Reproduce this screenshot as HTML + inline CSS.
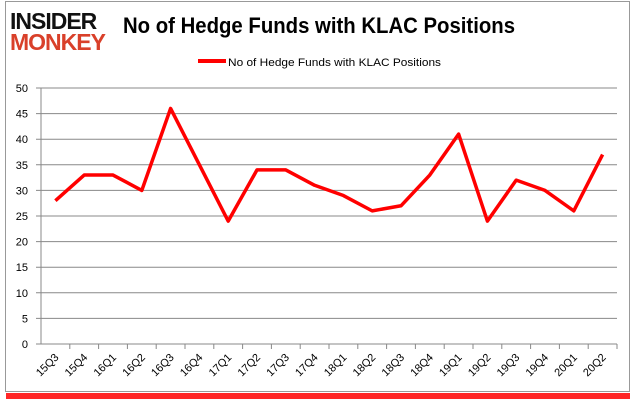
<!DOCTYPE html>
<html><head><meta charset="utf-8"><style>
body{margin:0;background:#fff;font-family:"Liberation Sans",sans-serif}
</style></head><body>
<svg width="635" height="405" xmlns="http://www.w3.org/2000/svg">
<rect x="6" y="393" width="624" height="6" fill="#f00" opacity="0.85"/>
<rect x="5.5" y="1.5" width="624" height="390" fill="#fff" stroke="#999"/>
<text x="10" y="29" font-size="23" font-weight="bold" fill="#111" font-family="Liberation Sans" letter-spacing="-1">INSIDER</text>
<text x="10" y="50" font-size="23" font-weight="bold" fill="#d9402a" font-family="Liberation Sans" letter-spacing="-1">MONKEY</text>
<text x="123" y="33" font-size="22" font-weight="bold" fill="#000" textLength="392" lengthAdjust="spacingAndGlyphs">No of Hedge Funds with KLAC Positions</text>
<line x1="198" y1="61" x2="226" y2="61" stroke="#f00" stroke-width="4"/>
<text x="228" y="66" font-size="11" fill="#000" textLength="213" lengthAdjust="spacingAndGlyphs">No of Hedge Funds with KLAC Positions</text>
<g id="g"></g>
</svg>
<script>
const categories=["15Q3","15Q4","16Q1","16Q2","16Q3","16Q4","17Q1","17Q2","17Q3","17Q4","18Q1","18Q2","18Q3","18Q4","19Q1","19Q2","19Q3","19Q4","20Q1","20Q2"];
const values=[28,33,33,30,46,35,24,34,34,31,29,26,27,33,41,24,32,30,26,37];
const yTicks=[0,5,10,15,20,25,30,35,40,45,50];
const NS="http://www.w3.org/2000/svg",g=document.getElementById('g');
const L=41,R=617,T=88,B=344,yMax=50;
const step=(R-L)/categories.length;
const xs=i=>L+step*(i+0.5), ys=v=>B-(v/yMax)*(B-T);
function mk(t,a){const e=document.createElementNS(NS,t);for(const k in a)e.setAttribute(k,a[k]);g.appendChild(e);return e;}
yTicks.forEach(v=>{
 const l=mk('line',{x1:L-5,x2:R,y1:ys(v),y2:ys(v),stroke:'#888','stroke-width':1});
 
 
 const t=mk('text',{x:L-13,y:ys(v)+4,'font-size':11,'text-anchor':'end',fill:'#000'});t.textContent=v;
 
 
});
const ax=mk('line',{x1:L,x2:L,y1:T,y2:B,stroke:'#888'});


categories.forEach((c,i)=>{
 const tk=mk('line',{x1:L+step*(i+1),x2:L+step*(i+1),y1:B,y2:B+5,stroke:'#888'});
 
 
 const x=xs(i)+4,y=B+14;
 const t=mk('text',{x:x,y:y,'font-size':11,'text-anchor':'end',fill:'#000',transform:`rotate(-45 ${x} ${y})`});t.textContent=c;
 
 
});
const p=mk('polyline',{points:values.map((v,i)=>xs(i)+','+ys(v)).join(' '),fill:'none',stroke:'#f00','stroke-width':3.5,'stroke-linejoin':'round'});


</script>
</body></html>
